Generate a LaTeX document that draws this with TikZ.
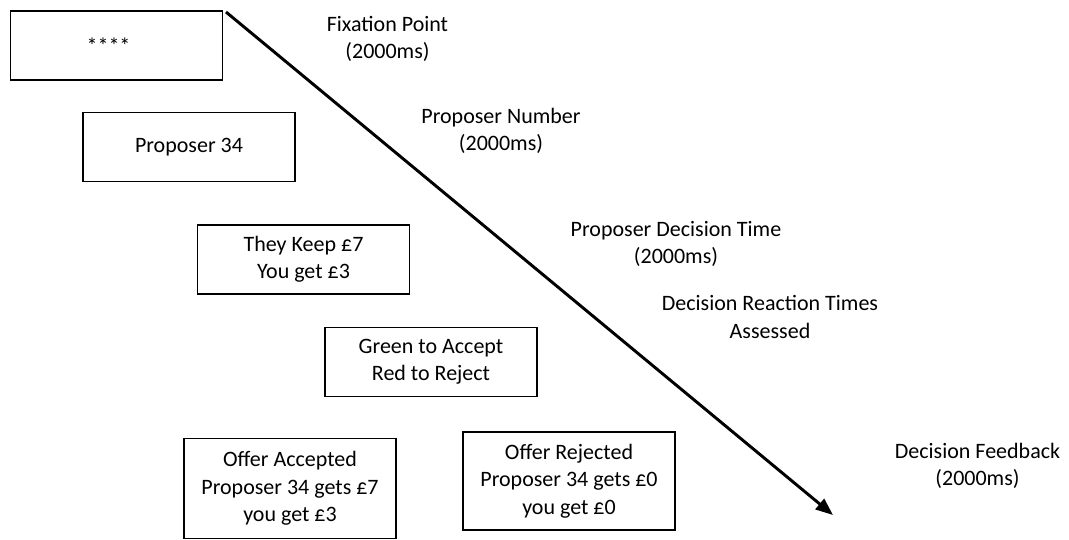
\documentclass[tikz,border=0pt]{standalone}
\usepackage{fontspec}
\setmainfont{Carlito}
\usepackage{tikz}
\usetikzlibrary{arrows.meta, positioning}
\tikzset{
    screen/.style={rectangle, draw, line width=1.4pt, align=center, minimum width=159pt, minimum height=51.75pt, inner sep=0pt},
    outcome/.style={screen, minimum height=73pt},
    phase/.style={align=center, inner sep=0pt},
    arrow/.style={-{Triangle[length=13pt, width=10pt]}, line width=2.2pt}
}

\begin{document}
\begin{tikzpicture}[x=0.75pt, y=-0.75pt, font=\fontsize{16.5}{20.6}\selectfont]
            \useasboundingbox (0,0) rectangle (1069,539);
            % screens
            \node (fix) [screen] at (116.5,45.5) {\kern-12pt****};
            \node (prop) [screen] at (189,147) {Proposer 34};
            \node (offer) [screen] at (303.5,259.5) {They Keep £7\\You get £3};
            \node (resp) [screen] at (431,362) {Green to Accept\\Red to Reject};
            \node (acc) [outcome, minimum height=75pt] at (290,488.5) {Offer Accepted\\Proposer 34 gets £7\\you get £3};
            \node (rej) [outcome] at (569,481) {Offer Rejected\\Proposer 34 gets £0\\you get £0};
            
            % timeline
            \coordinate (t0) at (226,12);
            \coordinate (t1) at (833,515);
            \draw[arrow] (t0) -- (t1);
            
            \node (lfix) [phase] at (387.5,39) {Fixation Point\\(2000ms)};
            \node (lprop) [phase] at (501,131) {Proposer Number\\(2000ms)};
            \node (loffer) [phase] at (676,244) {Proposer Decision Time\\(2000ms)};
            \node (lresp) [phase] at (770,317) {Decision Reaction Times\\Assessed};
            \node (lfb) [phase] at (977.5,466) {Decision Feedback\\(2000ms)};
        \end{tikzpicture}
\end{document}
